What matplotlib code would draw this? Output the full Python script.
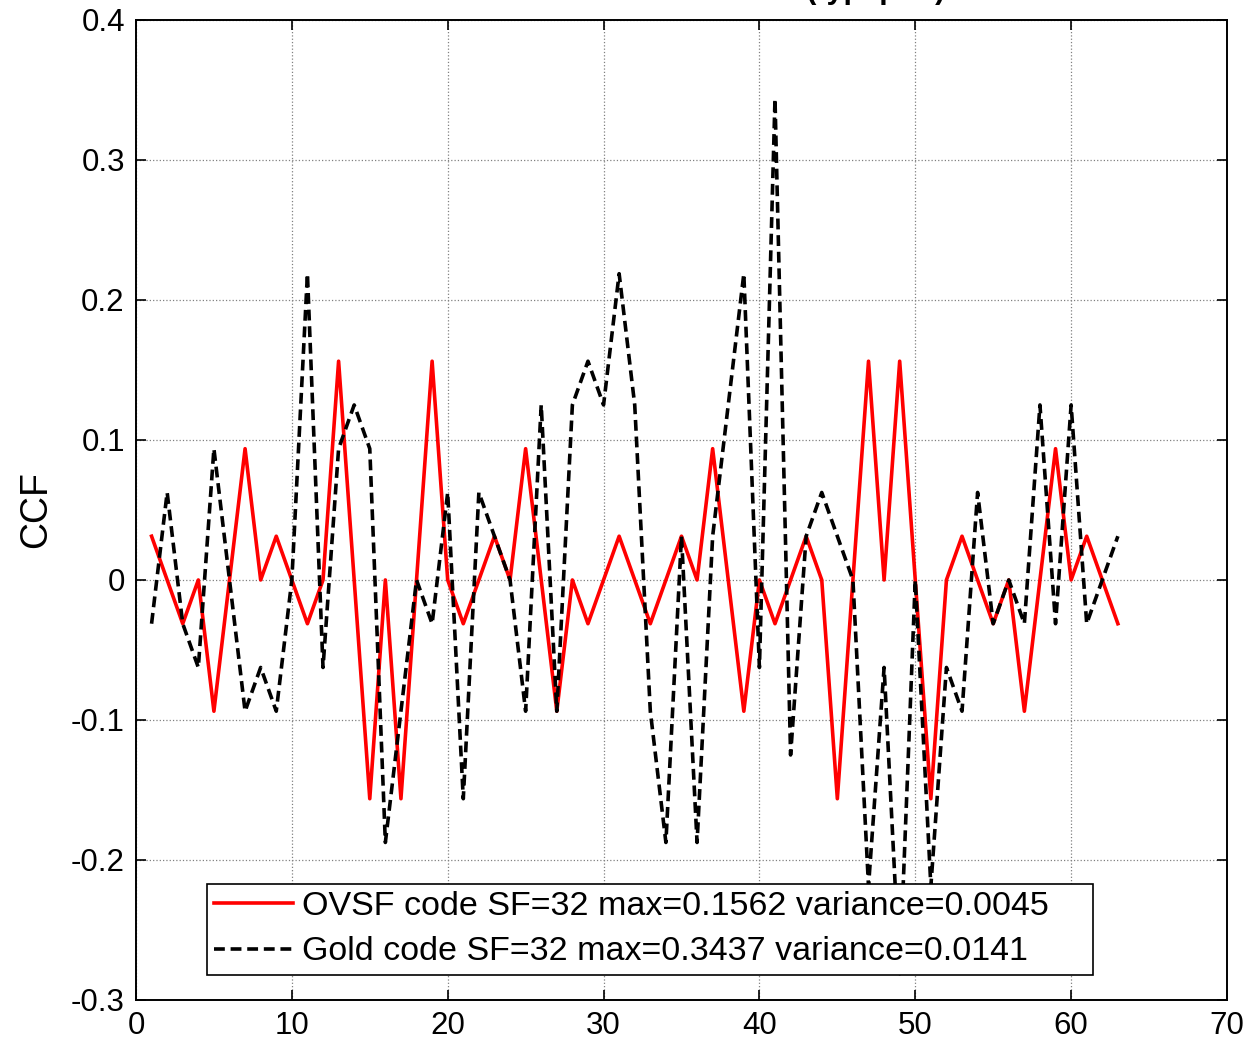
import numpy as np
import matplotlib
matplotlib.use('Agg')
import matplotlib.pyplot as plt

plt.rcParams['font.family'] = ['Liberation Sans', 'DejaVu Sans']

# lag index
lags = np.arange(1, 64)

# CCF values (in units of 1/32)
ovsf_ccf = np.array([
    1, 0, -1, 0, -3, 0, 3, 0, 1, 0,
    -1, 0, 5, 0, -5, 0, -5, 0, 5, 0,
    -1, 0, 1, 0, 3, 0, -3, 0, -1, 0,
    1, 0, -1, 0, 1, 0, 3, 0, -3, 0,
    -1, 0, 1, 0, -5, 0, 5, 0, 5, 0,
    -5, 0, 1, 0, -1, 0, -3, 0, 3, 0,
    1, 0, -1]) / 32.0

gold_ccf = np.array([
    -1, 2, -1, -2, 3, 0, -3, -2, -3, 0,
    7, -2, 3, 4, 3, -6, -3, 0, -1, 2,
    -5, 2, 1, 0, -3, 4, -3, 4, 5, 4,
    7, 4, -3, -6, 1, -6, 1, 4, 7, -2,
    11, -4, 1, 2, 1, 0, -7, -2, -9, 0,
    -7, -2, -3, 2, -1, 0, -1, 4, -1, 4,
    -1, 0, 1]) / 32.0

ovsf_label = 'OVSF code SF=32 max=0.1562 variance=0.0045'
gold_label = 'Gold code SF=32 max=0.3437 variance=0.0141'
title_text = 'Cross correlation function (typ. pair)'

xticks = [0, 10, 20, 30, 40, 50, 60, 70]
yticks = [-0.3, -0.2, -0.1, 0, 0.1, 0.2, 0.3, 0.4]
ytick_labels = ['-0.3', '-0.2', '-0.1', '0', '0.1', '0.2', '0.3', '0.4']

fig = plt.figure(figsize=(12.51, 10.45), dpi=100)
ax = fig.add_axes([0.1087, 0.0431, 0.8721, 0.9378])

ax.plot(lags, ovsf_ccf, color='red', linewidth=2.6, label=ovsf_label)
ax.plot(lags, gold_ccf, color='black', linewidth=2.6, linestyle=(0, (3.0, 1.6)),
        label=gold_label)

ax.set_xlim(0, 70)
ax.set_ylim(-0.3, 0.4)
ax.set_xticks(xticks)
ax.set_yticks(yticks)
ax.set_yticklabels(ytick_labels)
ax.tick_params(direction='in', top=True, right=True, length=7, width=1.2,
               labelsize=22.5, pad=8)
ax.grid(True, color='#808080', linestyle=':', linewidth=0.9)
for s in ax.spines.values():
    s.set_linewidth(1.4)

ax.set_ylabel('CCF', fontsize=27, labelpad=12)

leg = ax.legend(loc='lower left', bbox_to_anchor=(0.065, 0.0255, 0.812, 0.095),
                mode='expand', fontsize=24.5, frameon=True, fancybox=False,
                framealpha=1, edgecolor='black', handlelength=2.3,
                handletextpad=0.28, borderpad=0.22, labelspacing=0.42,
                borderaxespad=0)
leg.get_frame().set_linewidth(1.2)

# title is mostly cut off at the top of the figure
fig.text(0.544, 1.0 + 2.0 / 1045, title_text, ha='center', va='baseline',
         fontsize=22, fontweight='bold')

fig.savefig('out.png', dpi=100)
